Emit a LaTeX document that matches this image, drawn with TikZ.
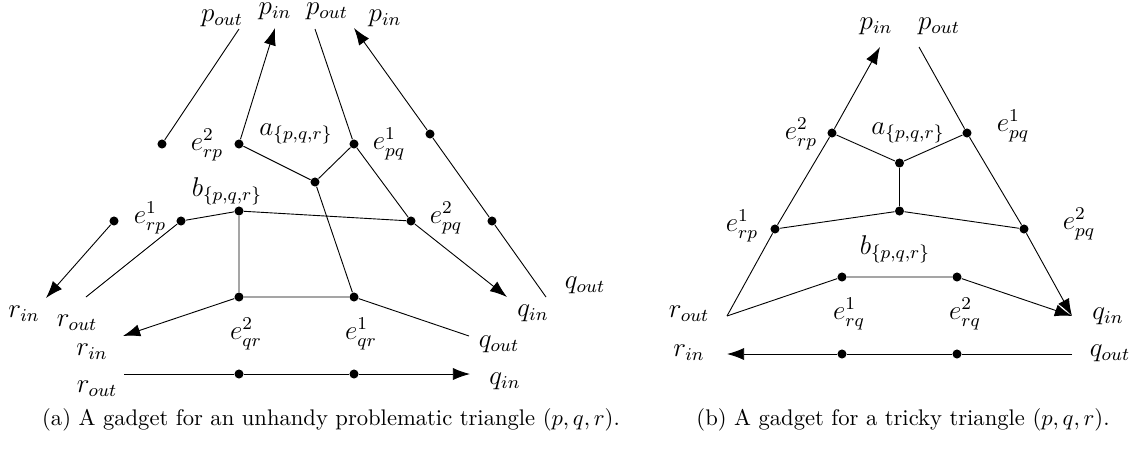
\documentclass[tikz,border=0pt]{standalone}
\usetikzlibrary{arrows.meta}
\begin{document}
\begin{tikzpicture}[x=0.4425pt,y=-0.4425pt,>={Latex[length=7.6pt,width=5.4pt]},
  vtx/.style={circle,fill,inner sep=0pt,minimum size=4pt},
  lab/.style={inner sep=0pt,font=\large}]
\useasboundingbox (0,0) rectangle (1137,455);
% (a) unhandy problematic triangle
\node[vtx] (aL1) at (114,221) {};
\node[vtx] (aL2) at (162,144) {};
\node[vtx] (aerp2) at (239,144) {};
\node[vtx] (aepq1) at (354,144) {};
\node[vtx] (aR1) at (430,134) {};
\node[vtx] (aa) at (315,182) {};
\node[vtx] (ab) at (239,211) {};
\node[vtx] (aerp1) at (181,221) {};
\node[vtx] (aepq2) at (411,221) {};
\node[vtx] (aR2) at (492,221) {};
\node[vtx] (aeqr2) at (239,297) {};
\node[vtx] (aeqr1) at (354,297) {};
\node[vtx] (aB1) at (239,374) {};
\node[vtx] (aB2) at (354,374) {};
\coordinate (apo1) at (239,29);
\coordinate (api1) at (275,28);
\coordinate (apo2) at (315,29);
\coordinate (api2) at (354,28);
\coordinate (ari1) at (46,298);
\coordinate (aro1) at (86,297);
\coordinate (ari2) at (123,336);
\coordinate (aro2) at (124,374);
\coordinate (aqi1) at (507,297);
\coordinate (aqo1) at (546,297);
\coordinate (aqo2) at (469,336);
\coordinate (aqi2) at (470,374);
\node[lab] (lpo1) at (222,18) {$p_{out}$};
\node[lab] (lpi1) at (275,11) {$p_{in}$};
\node[lab] (lpo2) at (327,11) {$p_{out}$};
\node[lab] (lpi2) at (385,18) {$p_{in}$};
\node[lab] (lerp2) at (207,145) {$e^2_{rp}$};
\node[lab] (la) at (296,134) {$a_{\{p,q,r\}}$};
\node[lab] (lepq1) at (389,144) {$e^1_{pq}$};
\node[lab] (lb) at (227,191) {$b_{\{p,q,r\}}$};
\node[lab] (lerp1) at (150,218) {$e^1_{rp}$};
\node[lab] (lepq2) at (446,218) {$e^2_{pq}$};
\node[lab] (lri1) at (24,314) {$r_{in}$};
\node[lab] (lro1) at (77,323) {$r_{out}$};
\node[lab] (lri2) at (92,352) {$r_{in}$};
\node[lab] (lro2) at (97,389) {$r_{out}$};
\node[lab] (leqr2) at (246,334) {$e^2_{qr}$};
\node[lab] (leqr1) at (361,334) {$e^1_{qr}$};
\node[lab] (lqi1) at (533,313) {$q_{in}$};
\node[lab] (lqo1) at (585,285) {$q_{out}$};
\node[lab] (lqo2) at (499,344) {$q_{out}$};
\node[lab] (lqi2) at (505,381) {$q_{in}$};
\draw (apo1) -- (aL2);
\draw[->] (aL1) -- (ari1);
\draw[->] (aerp2) -- (api1);
\draw (apo2) -- (aepq1) -- (aepq2);
\draw (aqo1) -- (aR2) -- (aR1);
\draw[->] (aR1) -- (api2);
\draw (aerp2) -- (aa) -- (aepq1);
\draw (aa) -- (aeqr1);
\draw (aro1) -- (aerp1) -- (ab) -- (aepq2);
\draw[->] (aepq2) -- (aqi1);
\draw (ab) -- (aeqr2) -- (aeqr1) -- (aqo2);
\draw[->] (aeqr2) -- (ari2);
\draw[->] (aro2) -- (aB1) -- (aB2) -- (aqi2);
\node (capa) at (331,420) {(a) A gadget for an unhandy problematic triangle $(p,q,r)$.};
% (b) tricky triangle
\node[vtx] (berp2) at (832,133) {};
\node[vtx] (bepq1) at (967,133) {};
\node[vtx] (ba) at (899.5,163) {};
\node[vtx] (bb) at (899.5,211) {};
\node[vtx] (berp1) at (775,229) {};
\node[vtx] (bepq2) at (1024,229) {};
\node[vtx] (berq1) at (842,277) {};
\node[vtx] (berq2) at (957,277) {};
\node[vtx] (bB1) at (842,354) {};
\node[vtx] (bB2) at (957,354) {};
\coordinate (bpi) at (880,47);
\coordinate (bpo) at (919,47);
\coordinate (bro) at (727,316);
\coordinate (bqi) at (1072,316);
\coordinate (bri) at (727,354);
\coordinate (bqo) at (1072,354);
\node[lab] (mpi) at (876,26) {$p_{in}$};
\node[lab] (mpo) at (939,26) {$p_{out}$};
\node[lab] (merp2) at (801,134) {$e^2_{rp}$};
\node[lab] (ma) at (908,133) {$a_{\{p,q,r\}}$};
\node[lab] (mepq1) at (1013,126) {$e^1_{pq}$};
\node[lab] (merp1) at (742,226) {$e^1_{rp}$};
\node[lab] (mepq2) at (1079,224) {$e^2_{pq}$};
\node[lab] (mb) at (895,249) {$b_{\{p,q,r\}}$};
\node[lab] (mro) at (689,314) {$r_{out}$};
\node[lab] (merq1) at (849,314) {$e^1_{rq}$};
\node[lab] (merq2) at (965,314) {$e^2_{rq}$};
\node[lab] (mqi) at (1108,316) {$q_{in}$};
\node[lab] (mri) at (689,353) {$r_{in}$};
\node[lab] (mqo) at (1110,353) {$q_{out}$};
\draw[->] (bro) -- (berp1) -- (berp2) -- (bpi);
\draw[->] (bpo) -- (bepq1) -- (bepq2) -- (bqi);
\draw (berp2) -- (ba) -- (bepq1);
\draw (ba) -- (bb);
\draw (berp1) -- (bb) -- (bepq2);
\draw[->] (bro) -- (berq1) -- (berq2) -- (bqi);
\draw[->] (bqo) -- (bB2) -- (bB1) -- (bri);
\node (capb) at (903,420) {(b) A gadget for a tricky triangle $(p,q,r)$.};
\end{tikzpicture}
\end{document}
